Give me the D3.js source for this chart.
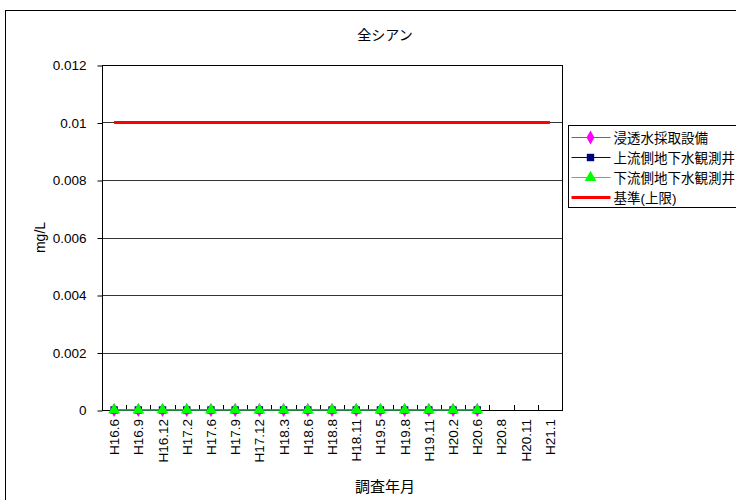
<!DOCTYPE html>
<html>
<head>
<meta charset="utf-8">
<script src="https://cdn.jsdelivr.net/npm/d3@7"></script>
<style>
  body { margin: 0; background: #fff; }
  text { font-family: "Liberation Sans", Arial, "Noto Sans CJK JP", sans-serif; }
</style>
</head>
<body>
<svg id="chart" width="736" height="500"></svg>
<script>
// data
const months = ["H16.6", "H16.9", "H16.12", "H17.2", "H17.6", "H17.9", "H17.12", "H18.3", "H18.6", "H18.8",
  "H18.11", "H19.5", "H19.8", "H19.11", "H20.2", "H20.6", "H20.8", "H20.11", "H21.1"];
const seepage = [0, 0, 0, 0, 0, 0, 0, 0, 0, 0, 0, 0, 0, 0, 0, 0, null, null, null];
const upstream = [0, 0, 0, 0, 0, 0, 0, 0, 0, 0, 0, 0, 0, 0, 0, 0, null, null, null];
const downstream = [0, 0, 0, 0, 0, 0, 0, 0, 0, 0, 0, 0, 0, 0, 0, 0, null, null, null];
const limit = [0.01, 0.01, 0.01, 0.01, 0.01, 0.01, 0.01, 0.01, 0.01, 0.01,
  0.01, 0.01, 0.01, 0.01, 0.01, 0.01, 0.01, 0.01, 0.01];
const yTicks = [0, 0.002, 0.004, 0.006, 0.008, 0.01, 0.012];

const series = [
  { name: "浸透水採取設備", values: seepage, color: "#ff00ff", symbol: d3.symbolDiamond, size: 55 },
  { name: "上流側地下水観測井", values: upstream, color: "#000080", symbol: d3.symbolSquare, size: 55 },
  { name: "下流側地下水観測井", values: downstream, color: "#00ff00", symbol: d3.symbolTriangle, size: 60 }
];

const svg = d3.select("#chart");
const plotL = 102, plotR = 562, plotT = 65, plotB = 410;

// outer frame
svg.append("rect")
  .attr("x", 5.5).attr("y", 10.5)
  .attr("width", 800).attr("height", 600)
  .attr("fill", "none").attr("stroke", "#000");

const x = d3.scaleBand().domain(months).range([plotL, plotR]);
const y = d3.scaleLinear().domain([0, 0.012]).range([plotB, plotT]);
const cx = d => x(d) + x.bandwidth() / 2;

// grid lines
svg.append("g")
  .selectAll("line")
  .data(yTicks.slice(1, -1))
  .join("line")
  .attr("x1", plotL).attr("x2", plotR)
  .attr("y1", d => Math.round(y(d)) + 0.5).attr("y2", d => Math.round(y(d)) + 0.5)
  .attr("stroke", "#000").attr("stroke-width", 0.8);

// plot box
svg.append("rect")
  .attr("x", plotL + 0.5).attr("y", plotT + 0.5)
  .attr("width", plotR - plotL).attr("height", plotB - plotT)
  .attr("fill", "none").attr("stroke", "#000");

// y axis
const yAxis = svg.append("g")
  .attr("transform", "translate(" + (plotL + 0.5) + ",0.5)")
  .call(d3.axisLeft(y).tickValues(yTicks).tickSize(5).tickPadding(11).tickFormat(d => String(+d.toFixed(3))));
yAxis.select(".domain").remove();
yAxis.selectAll("text").attr("font-size", 13.5).attr("fill", "#000");

// x axis: ticks at band boundaries
svg.append("g")
  .selectAll("line")
  .data(months.slice(1))
  .join("line")
  .attr("x1", d => Math.round(x(d)) + 0.5).attr("x2", d => Math.round(x(d)) + 0.5)
  .attr("y1", plotB - 5).attr("y2", plotB)
  .attr("stroke", "#000");

svg.append("g")
  .selectAll("text")
  .data(months)
  .join("text")
  .attr("transform", d => "translate(" + (cx(d) + 5) + "," + (plotB + 9) + ") rotate(-90)")
  .attr("text-anchor", "end")
  .attr("font-size", 13.5)
  .text(d => d);

// lines
const line = vals => d3.line()
  .defined(d => d != null)
  .x((d, i) => cx(months[i]))
  .y(d => y(d))(vals);

svg.append("path")
  .attr("d", line(limit))
  .attr("fill", "none").attr("stroke", "#ff0000").attr("stroke-width", 3);

// measured series
series.forEach(s => {
  svg.append("path")
    .attr("d", line(s.values))
    .attr("fill", "none").attr("stroke", s.color).attr("stroke-width", 1);
  svg.append("g")
    .selectAll("path")
    .data(s.values.map((v, i) => ({ v, m: months[i] })).filter(d => d.v != null))
    .join("path")
    .attr("transform", d => "translate(" + cx(d.m) + "," + y(d.v) + ")")
    .attr("d", d3.symbol().type(s.symbol).size(s.size))
    .attr("fill", s.color);
});

// titles
svg.append("text")
  .attr("x", 385).attr("y", 40)
  .attr("text-anchor", "middle").attr("font-size", 14)
  .text("全シアン");

svg.append("text")
  .attr("transform", "translate(45," + ((plotT + plotB) / 2) + ") rotate(-90)")
  .attr("text-anchor", "middle").attr("font-size", 14)
  .text("mg/L");

svg.append("text")
  .attr("x", 385).attr("y", 492)
  .attr("text-anchor", "middle").attr("font-size", 15)
  .text("調査年月");

// legend
const legend = svg.append("g").attr("transform", "translate(568.5,125.5)");
legend.append("rect")
  .attr("width", 200).attr("height", 82)
  .attr("fill", "#fff").attr("stroke", "#000");

const legendItems = series.concat([{ name: "基準(上限)", color: "#ff0000", symbol: null }]);
legendItems.forEach((s, i) => {
  const g = legend.append("g").attr("transform", "translate(0," + (12 + i * 20) + ")");
  g.append("line")
    .attr("x1", 3).attr("x2", 42)
    .attr("stroke", s.color).attr("stroke-width", s.symbol ? 1 : 3);
  if (s.symbol) {
    g.append("path")
      .attr("transform", "translate(22,0)")
      .attr("d", d3.symbol().type(s.symbol).size(s.size))
      .attr("fill", s.color);
  }
  g.append("text")
    .attr("x", 45).attr("y", 5)
    .attr("font-size", 13.5)
    .text(s.name);
});
</script>
</body>
</html>
